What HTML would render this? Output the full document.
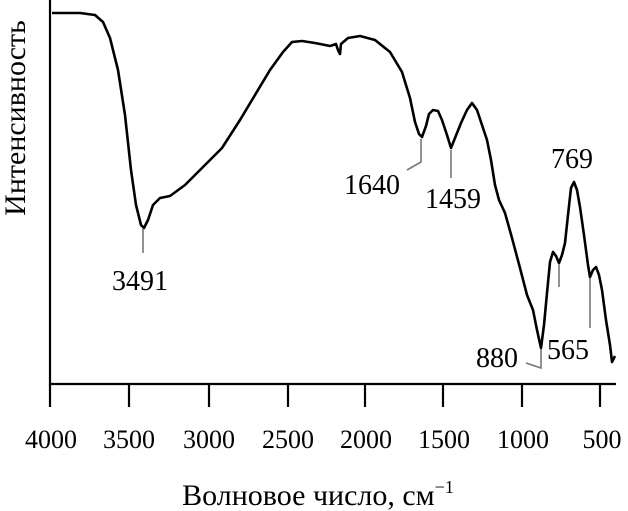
<!DOCTYPE html>
<html><head><meta charset="utf-8"><style>
html,body{margin:0;padding:0;background:#fff;}
svg{display:block;}
text{font-family:"Liberation Serif",serif;fill:#000;}
</style></head><body>
<svg width="628" height="511" viewBox="0 0 628 511" xmlns="http://www.w3.org/2000/svg">
<g stroke="#000" stroke-width="2.2" fill="none">
<line x1="50" y1="0" x2="50" y2="385"/>
<line x1="49" y1="384" x2="616" y2="384"/>
<line x1="50" y1="384" x2="50" y2="407"/>
<line x1="129" y1="384" x2="129" y2="407"/>
<line x1="209" y1="384" x2="209" y2="407"/>
<line x1="288" y1="384" x2="288" y2="407"/>
<line x1="365" y1="384" x2="365" y2="407"/>
<line x1="443" y1="384" x2="443" y2="407"/>
<line x1="522" y1="384" x2="522" y2="407"/>
<line x1="600" y1="384" x2="600" y2="407"/>
</g>
<path d="M52,13 L80,13 L95,15 L103,22 L110,38 L118,70 L125,115 L131,170 L136,205 L141,225 L144,228 L148,220 L153,205 L160,198 L170,196 L185,185 L205,165 L222,148 L240,120 L255,95 L270,70 L283,52 L292,42 L302,41 L315,43 L330,46 L336,44 L338,50 L340,54 L341,44 L348,38 L360,36 L375,40 L390,52 L402,72 L410,98 L415,122 L419,134 L422,137 L426,126 L429,114 L433,110 L438,111 L442,120 L447,135 L451,148 L455,138 L461,123 L467,110 L472,103 L477,110 L482,125 L487,140 L491,160 L495,185 L499,200 L505,213 L512,238 L520,268 L527,295 L533,310 L537,330 L541,348 L544,325 L547,293 L550,262 L553,252 L556,256 L559,263 L562,255 L565,243 L568,215 L571,188 L574,182 L577,190 L580,207 L584,235 L588,265 L590,277 L593,270 L596,267 L599,275 L602,290 L606,320 L610,345 L612,362 L615,356" fill="none" stroke="#000" stroke-width="2.6" stroke-linejoin="round"/>
<g stroke="#777" stroke-width="1.6" fill="none">
<line x1="143" y1="229" x2="143" y2="253"/>
<polyline points="421,139 421,162 407,170"/>
<line x1="451" y1="150" x2="451" y2="178"/>
<polyline points="541,349 541,368 526,363"/>
<line x1="559" y1="264" x2="559" y2="287"/>
<line x1="590" y1="278" x2="590" y2="328"/>
</g>
<g font-size="28" text-anchor="middle">
<text x="140" y="290">3491</text>
<text x="372" y="194">1640</text>
<text x="453" y="208">1459</text>
<text x="572" y="168">769</text>
<text x="497" y="367">880</text>
<text x="568" y="359">565</text>
</g>
<g font-size="26" text-anchor="middle">
<text x="51" y="448">4000</text>
<text x="129" y="448">3500</text>
<text x="209" y="448">3000</text>
<text x="288" y="448">2500</text>
<text x="366" y="448">2000</text>
<text x="444" y="448">1500</text>
<text x="523" y="448">1000</text>
<text x="602" y="448">500</text>
</g>
<g font-size="30" text-anchor="middle">
<text x="318" y="505">Волновое число, см<tspan font-size="18" dy="-12">−1</tspan></text>
<text transform="translate(25,118) rotate(-90)">Интенсивность</text>
</g>
</svg>
</body></html>
